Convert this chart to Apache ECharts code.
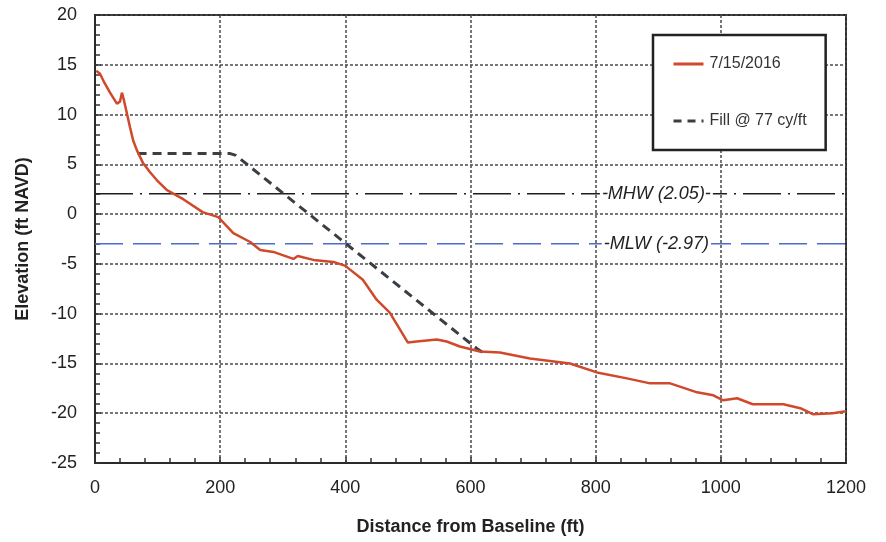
<!DOCTYPE html>
<html>
<head>
	<meta charset="utf-8">
	<title>beach profile</title>
	<script type="text/javascript" src="https://cdn.jsdelivr.net/npm/echarts@6/dist/echarts.min.js"></script>
	<style>
		html, body { margin: 0; padding: 0; background: #fff; }
	</style>
</head>
<body>
	<div id="chart" style="width: 886px; height: 542px;"></div>
	<script type="text/javascript">
		// survey profile 7/15/2016
		const surveyDistance = [2, 8, 15, 24, 35, 40, 43, 46, 51, 56, 61, 67, 77, 88, 99, 115, 141, 172, 197, 221, 248, 264, 285, 317, 324, 349, 381, 400, 428, 450, 471, 500, 514, 546, 562, 583, 615, 647, 695, 759, 802, 850, 887, 919, 962, 988, 1004, 1026, 1051, 1100, 1127, 1147, 1179, 1200];
		const surveyElevation = [14.4, 14.1, 13.2, 12.2, 11.1, 11.3, 12.2, 11.5, 10.1, 8.7, 7.4, 6.4, 5.1, 4.2, 3.4, 2.4, 1.5, 0.2, -0.3, -1.9, -2.8, -3.6, -3.8, -4.5, -4.2, -4.6, -4.8, -5.2, -6.6, -8.6, -9.9, -12.9, -12.8, -12.6, -12.8, -13.3, -13.8, -13.9, -14.5, -15.0, -15.9, -16.5, -17.0, -17.0, -17.9, -18.2, -18.7, -18.5, -19.1, -19.1, -19.5, -20.1, -20.0, -19.8];

		// fill template
		const fillDistance = [68, 215, 225, 610, 622];
		const fillElevation = [6.1, 6.1, 5.9, -13.5, -14.0];

		// tidal datums
		const mhw = 2.05;
		const mlw = -2.97;
		const datumLabelAt = 897;

		const pair = (xs, ys) => xs.map((x, i) => [x, ys[i]]);

		const font = 'Liberation Sans, Arial, sans-serif';
		const red = '#d0492a';
		const fillGray = '#3a3f44';

		const options = {
			animation: false,
			backgroundColor: '#fff',
			grid: {
				left: 95, right: 40, top: 15, bottom: 79,
				show: true, borderColor: '#2a2a2a', borderWidth: 2
			},
			legend: {
				data: [
					{ name: '7/15/2016', itemStyle: { opacity: 0 }, lineStyle: { color: red, width: 3, type: 'solid' } },
					{ name: 'Fill @ 77 cy/ft', itemStyle: { opacity: 0 }, lineStyle: { color: fillGray, width: 3, type: [8, 6] } }
				],
				orient: 'vertical',
				left: 653, top: 35,
				padding: [21, 19, 21, 19],
				itemGap: 41,
				itemWidth: 30, itemHeight: 14,
				borderColor: '#222', borderWidth: 2.5,
				backgroundColor: '#fff',
				textStyle: { fontFamily: font, fontSize: 16, color: '#333', padding: [0, 0, 0, 1] }
			},
			xAxis: {
				type: 'value',
				min: 0, max: 1200, interval: 200,
				name: 'Distance from Baseline (ft)',
				nameLocation: 'middle',
				nameGap: 55,
				nameTextStyle: { fontFamily: font, fontSize: 18, fontWeight: 'bold', color: '#222' },
				axisLine: { onZero: false, lineStyle: { color: '#2a2a2a', width: 2 } },
				axisTick: { inside: true, length: 6, lineStyle: { color: '#333', width: 1.5 } },
				minorTick: { show: true, splitNumber: 5, length: 5, lineStyle: { color: '#333', width: 1.5 } },
				axisLabel: { fontFamily: font, fontSize: 18, color: '#222', margin: 16, formatter: v => String(v) },
				splitLine: { lineStyle: { color: '#4a4a4a', width: 1.5, type: [3, 2] } }
			},
			yAxis: {
				type: 'value',
				min: -25, max: 20, interval: 5,
				name: 'Elevation (ft NAVD)',
				nameLocation: 'middle',
				nameGap: 63,
				nameRotate: 90,
				nameTextStyle: { fontFamily: font, fontSize: 18, fontWeight: 'bold', color: '#222' },
				axisLine: { onZero: false, lineStyle: { color: '#2a2a2a', width: 2 } },
				axisTick: { inside: true, length: 6, lineStyle: { color: '#333', width: 1.5 } },
				minorTick: { show: true, splitNumber: 5, length: 5, lineStyle: { color: '#333', width: 1.5 } },
				axisLabel: { fontFamily: font, fontSize: 18, color: '#222', margin: 18 },
				splitLine: { lineStyle: { color: '#4a4a4a', width: 1.5, type: [3, 2] } }
			},
			series: [
				{
					name: 'MHW',
					type: 'line',
					symbol: 'none',
					silent: true,
					data: [[0, mhw], [1200, mhw]],
					lineStyle: { color: '#1e1e1e', width: 1.5, type: [38, 7, 2, 7] },
					markPoint: {
						symbol: 'rect', symbolSize: 0,
						data: [{ coord: [datumLabelAt, mhw] }],
						label: {
							show: true, position: 'inside',
							formatter: '-MHW (2.05)-',
							fontFamily: font, fontSize: 18, fontStyle: 'italic', color: '#222',
							backgroundColor: '#fff', padding: [0, 2]
						}
					}
				},
				{
					name: 'MLW',
					type: 'line',
					symbol: 'none',
					silent: true,
					data: [[0, mlw], [1200, mlw]],
					lineStyle: { color: '#4b6cc9', width: 1.5, type: [28, 10] },
					markPoint: {
						symbol: 'rect', symbolSize: 0,
						data: [{ coord: [datumLabelAt, mlw] }],
						label: {
							show: true, position: 'inside',
							formatter: '-MLW (-2.97)',
							fontFamily: font, fontSize: 18, fontStyle: 'italic', color: '#222',
							backgroundColor: '#fff', padding: [0, 2]
						}
					}
				},
				{
					name: 'Fill @ 77 cy/ft',
					type: 'line',
					symbol: 'none',
					data: pair(fillDistance, fillElevation),
					itemStyle: { color: fillGray },
					lineStyle: { color: fillGray, width: 3, type: [9, 6] }
				},
				{
					name: '7/15/2016',
					type: 'line',
					symbol: 'none',
					data: pair(surveyDistance, surveyElevation),
					itemStyle: { color: red },
					lineStyle: { color: red, width: 2.5 }
				}
			]
		};

		const myChart = echarts.init(document.getElementById('chart'));
		myChart.setOption(options);
	</script>
</body>
</html>
